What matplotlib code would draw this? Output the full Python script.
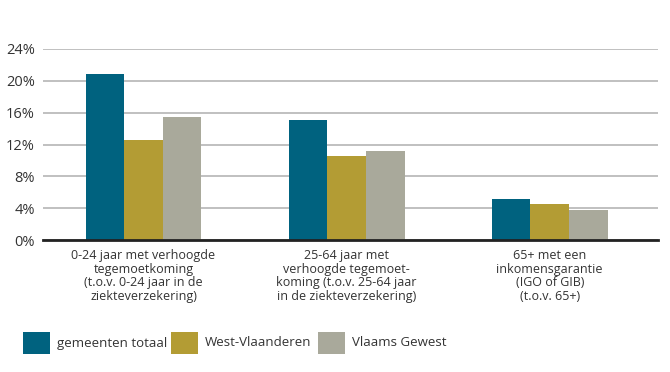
import matplotlib
matplotlib.use("Agg")
import matplotlib.pyplot as plt
from matplotlib.patches import Rectangle
import numpy as np

categories = [
    "0-24 jaar met verhoogde\ntegemoetkoming\n(t.o.v. 0-24 jaar in de\nziekteverzekering)",
    "25-64 jaar met\nverhoogde tegemoet-\nkoming (t.o.v. 25-64 jaar\nin de ziekteverzekering)",
    "65+ met een\ninkomensgarantie\n(IGO of GIB)\n(t.o.v. 65+)",
]
series_names = ["gemeenten totaal", "West-Vlaanderen", "Vlaams Gewest"]
gemeenten_totaal = [20.9, 15.1, 5.1]
west_vlaanderen = [12.6, 10.5, 4.5]
vlaams_gewest = [15.4, 11.2, 3.8]
yticks = [0, 4, 8, 12, 16, 20, 24]
ytick_labels = ["0%", "4%", "8%", "12%", "16%", "20%", "24%"]

colors = ["#00627f", "#b39c34", "#a9a99b"]
text_color = "#333333"

plt.rcParams['font.family'] = ['Open Sans', 'DejaVu Sans']

W, H = 670, 372
fig = plt.figure(figsize=(6.7, 3.72), dpi=100)
ax = fig.add_axes([43 / W, 1 - 240 / H, (658 - 43) / W, (240 - 49) / H])

x = np.arange(len(categories))
w = 0.19
for i, (vals, c, name) in enumerate(zip([gemeenten_totaal, west_vlaanderen, vlaams_gewest], colors, series_names)):
    ax.bar(x + (i - 1) * w, vals, width=w, color=c, label=name, zorder=3)

ax.set_xlim(-0.495, 2.533)
ax.set_ylim(0, 24)
ax.set_yticks(yticks)
ax.set_yticklabels(ytick_labels, fontsize=10.5, color=text_color)
ax.tick_params(axis='y', length=0, pad=6)
ax.set_xticks(x)
ax.set_xticklabels(categories, fontsize=9, color=text_color, linespacing=1.05)
ax.tick_params(axis='x', length=0, pad=6.5)
ax.grid(axis='y', color='#b5b5b5', linewidth=1.2, zorder=0)
for s in ['top', 'right', 'left']:
    ax.spines[s].set_visible(False)
ax.spines['bottom'].set_color('#222222')
ax.spines['bottom'].set_linewidth(2)
ax.spines['bottom'].set_zorder(4)

# legend, laid out by hand
box_x = [23, 171, 318]
box_top, box_bot = 332, 354
for bx, c, name in zip(box_x, colors, series_names):
    fig.add_artist(Rectangle((bx / W, 1 - box_bot / H), 27 / W, (box_bot - box_top) / H,
                             transform=fig.transFigure, facecolor=c, edgecolor='none'))
    fig.text((bx + 34) / W, 1 - (box_top + box_bot) / 2 / H, name, fontsize=9.5,
             color=text_color, va='center', ha='left')

fig.savefig("out.png", dpi=100)
